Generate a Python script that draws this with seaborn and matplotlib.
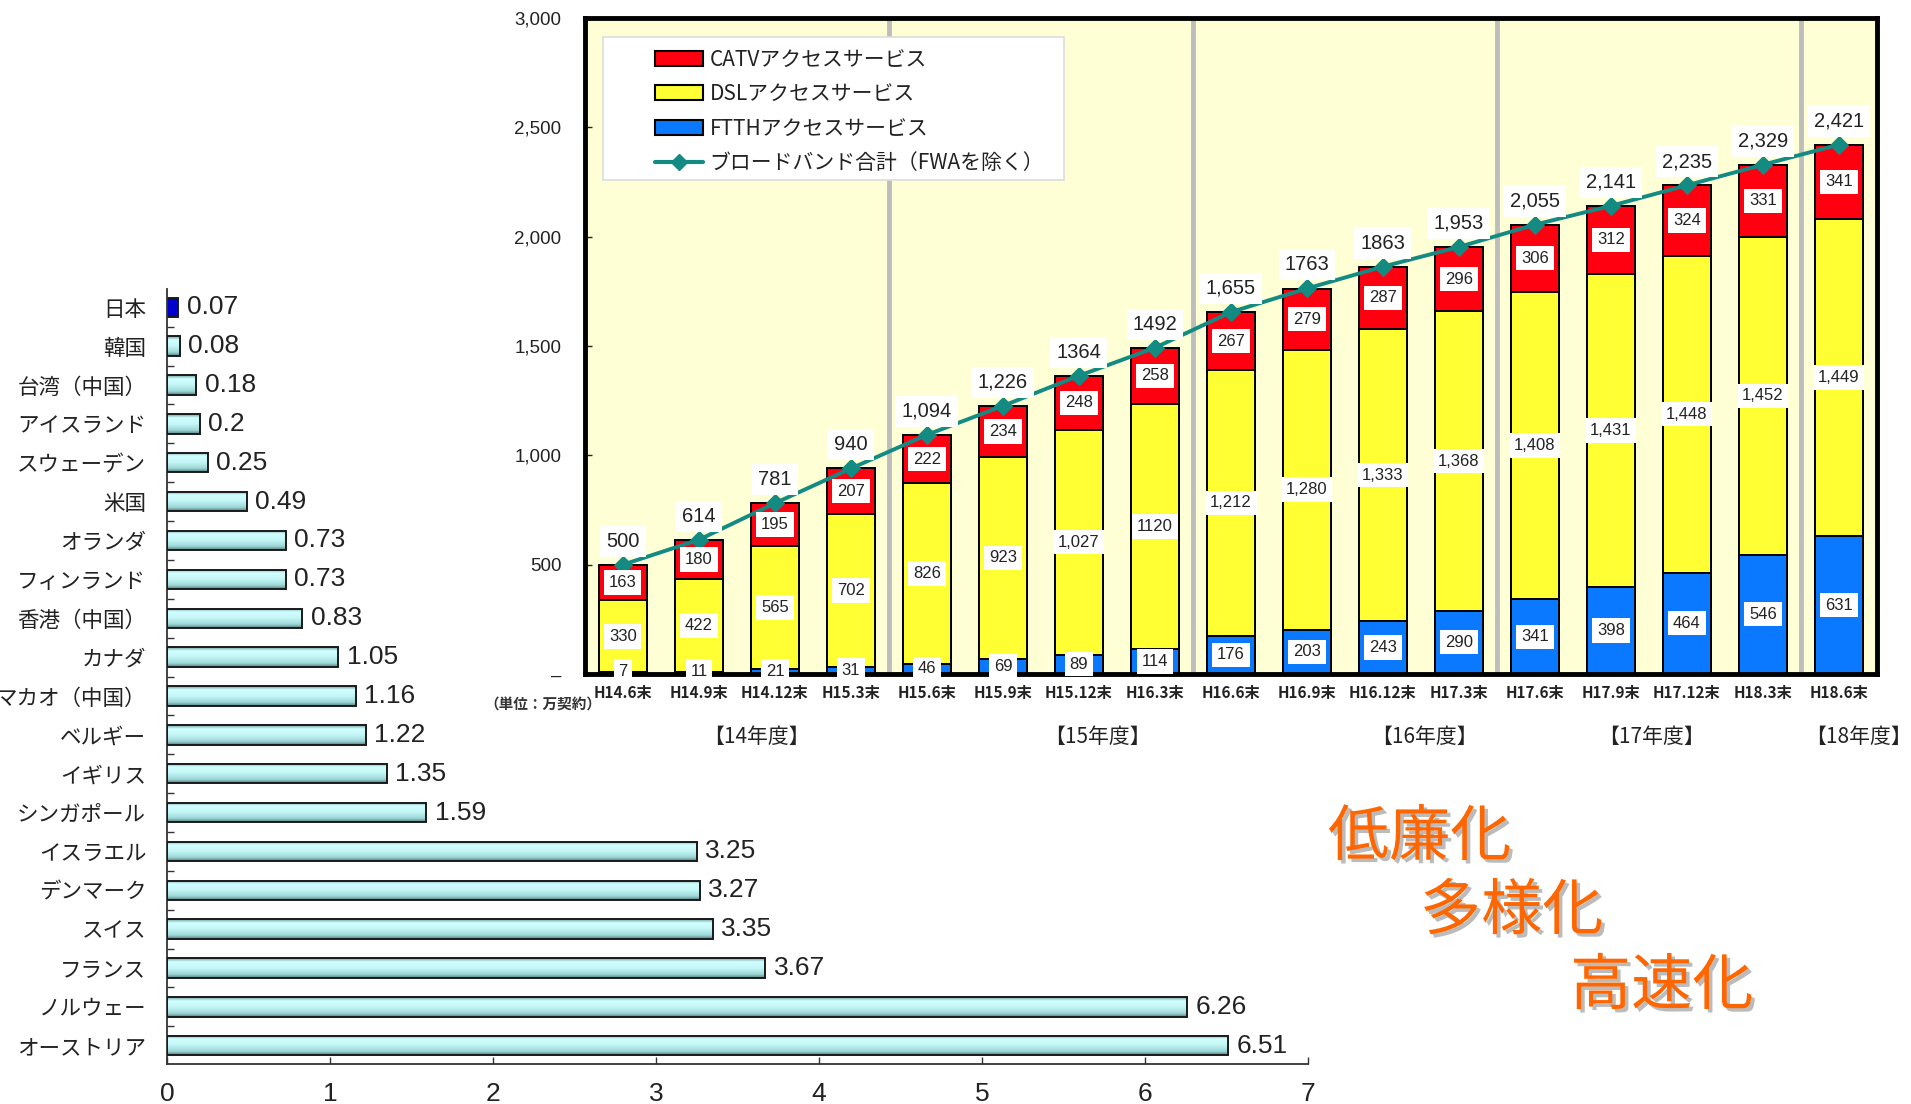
import numpy as np
import matplotlib
matplotlib.use("Agg")
import matplotlib.pyplot as plt
import matplotlib.patheffects as pe
from matplotlib.patches import Rectangle, Patch
from matplotlib.lines import Line2D
from matplotlib.colors import LinearSegmentedColormap
import seaborn as sns

# ---------------- data ----------------
countries = ["日本", "韓国", "台湾（中国）", "アイスランド", "スウェーデン", "米国",
             "オランダ", "フィンランド", "香港（中国）", "カナダ", "マカオ（中国）",
             "ベルギー", "イギリス", "シンガポール", "イスラエル", "デンマーク",
             "スイス", "フランス", "ノルウェー", "オーストリア"]
price = [0.07, 0.08, 0.18, 0.2, 0.25, 0.49, 0.73, 0.73, 0.83, 1.05, 1.16,
         1.22, 1.35, 1.59, 3.25, 3.27, 3.35, 3.67, 6.26, 6.51]
price_ticks = [0, 1, 2, 3, 4, 5, 6, 7]

periods = ["H14.6末", "H14.9末", "H14.12末", "H15.3末", "H15.6末", "H15.9末",
           "H15.12末", "H16.3末", "H16.6末", "H16.9末", "H16.12末", "H17.3末",
           "H17.6末", "H17.9末", "H17.12末", "H18.3末", "H18.6末"]
ftth = [7, 11, 21, 31, 46, 69, 89, 114, 176, 203, 243, 290, 341, 398, 464, 546, 631]
dsl = [330, 422, 565, 702, 826, 923, 1027, 1120, 1212, 1280, 1333, 1368, 1408,
       1431, 1448, 1452, 1449]
catv = [163, 180, 195, 207, 222, 234, 248, 258, 267, 279, 287, 296, 306, 312,
        324, 331, 341]
total = [500, 614, 781, 940, 1094, 1226, 1364, 1492, 1655, 1763, 1863, 1953,
         2055, 2141, 2235, 2329, 2421]
total_labels = ["500", "614", "781", "940", "1,094", "1,226", "1364", "1492",
                "1,655", "1763", "1863", "1,953", "2,055", "2,141", "2,235",
                "2,329", "2,421"]
dsl_labels = ["330", "422", "565", "702", "826", "923", "1,027", "1120", "1,212",
              "1,280", "1,333", "1,368", "1,408", "1,431", "1,448", "1,452", "1,449"]
series_names = ["CATVアクセスサービス", "DSLアクセスサービス", "FTTHアクセスサービス",
                "ブロードバンド合計（FWAを除く）"]
y_ticks = [0, 500, 1000, 1500, 2000, 2500, 3000]
y_tick_labels = ["–", "500", "1,000", "1,500", "2,000", "2,500", "3,000"]
fiscal_years = ["【14年度】", "【15年度】", "【16年度】", "【17年度】", "【18年度】"]
unit_label = "（単位：万契約）"
slogans = ["低廉化", "多様化", "高速化"]

# ---------------- style ----------------
sns.set_style("white")
CJK = ["Noto Sans CJK JP", "DejaVu Sans"]
NUM = ["Liberation Sans", "DejaVu Sans"]
plt.rcParams["font.family"] = CJK

RED = "#FF0010"
YEL = "#FFFF33"
BLUE = "#0A78FF"
TEAL = "#138A82"
TXT = "#222222"

fig = plt.figure(figsize=(19.11, 11.04), dpi=100)
fig.patch.set_facecolor("white")

# ---------------- left: price per 100kbps ----------------
axL = fig.add_axes([0.0874, 0.0362, 0.5971, 0.702])
bar_colors = ["#0000CC"] + ["#C8F4F4"] * (len(countries) - 1)
sns.barplot(x=price, y=countries, hue=countries, palette=bar_colors, legend=False,
            orient="h", width=0.5, saturation=1, edgecolor="#1a1a1a",
            linewidth=1.4, ax=axL)

grad_cmap = LinearSegmentedColormap.from_list(
    "cyl", [(0, "#6E9E9E"), (0.18, "#D2FFFF"), (0.5, "#C4F6F6"),
            (0.82, "#9CD6D6"), (1, "#567F7F")])
grad = np.linspace(0, 1, 64).reshape(-1, 1)
for i, cont in enumerate(axL.containers):
    for p in cont.patches:
        if i == 0:
            continue
        x0, y0 = p.get_x(), p.get_y()
        w, h = p.get_width(), p.get_height()
        p.set_facecolor("none")
        p.set_zorder(3)
        im = axL.imshow(grad, cmap=grad_cmap, aspect="auto",
                        extent=(x0, x0 + w, y0 + h, y0), origin="upper",
                        zorder=2, interpolation="bilinear")
        im.set_clip_path(p)

for cont, v in zip(axL.containers, price):
    axL.bar_label(cont, labels=[f"{v:g}"], padding=6, fontsize=19,
                  fontfamily=NUM, color=TXT)

axL.set_xlim(0, 7)
axL.set_ylim(len(countries) - 0.53, -0.47)
axL.set_xticks(price_ticks)
axL.set_xticklabels([str(t) for t in price_ticks], fontsize=19, fontfamily=NUM,
                    color=TXT)
axL.set_yticks(range(len(countries)))
axL.set_yticklabels(countries, fontsize=15.5, color=TXT)
axL.set_yticks(np.arange(0.5, len(countries) - 1, 1), minor=True)
axL.tick_params(axis="x", direction="in", length=5, width=1, pad=13,
                bottom=True, color="#333")
axL.tick_params(axis="y", which="major", length=0, pad=15)
axL.tick_params(axis="y", which="minor", direction="in", length=5, width=1,
                left=True, color="#333")
axL.set_xlabel("")
axL.set_ylabel("")
for s in ["top", "right"]:
    axL.spines[s].set_visible(False)
for s in ["left", "bottom"]:
    axL.spines[s].set_color("#333333")
    axL.spines[s].set_linewidth(1.3)

# ---------------- right: broadband subscriptions ----------------
axR = fig.add_axes([0.3061, 0.3895, 0.6761, 0.5942])
axR.set_facecolor("#FFFFD6")
n = len(periods)
for xv in [3.5, 7.5, 11.5, 15.5]:
    axR.axvline(xv, color="#BDBDBD", lw=3.5, zorder=0.5)

s1 = np.array(ftth)
s2 = s1 + np.array(dsl)
s3 = s2 + np.array(catv)
for heights, col in [(s3, RED), (s2, YEL), (s1, BLUE)]:
    sns.barplot(x=periods, y=heights, color=col, saturation=1, width=0.63,
                edgecolor="black", linewidth=1.4, ax=axR, zorder=1)

sns.lineplot(x=np.arange(n), y=total, color=TEAL, lw=2.8, marker="D",
             markersize=9, markeredgecolor=TEAL, ax=axR, zorder=5)

box = dict(boxstyle="square,pad=0.28", fc="white", ec="none")
for i in range(n):
    axR.text(i, max(ftth[i] / 2, 12), str(ftth[i]), ha="center", va="center",
             fontsize=12, fontfamily=NUM, color=TXT, bbox=box, zorder=6)
    axR.text(i, s1[i] + dsl[i] / 2, dsl_labels[i], ha="center", va="center",
             fontsize=12, fontfamily=NUM, color=TXT, bbox=box, zorder=6)
    axR.text(i, s2[i] + catv[i] / 2, str(catv[i]), ha="center", va="center",
             fontsize=12, fontfamily=NUM, color=TXT, bbox=box, zorder=6)
    axR.annotate(total_labels[i], xy=(i, total[i]), xytext=(0, 17),
                 textcoords="offset points", ha="center", va="center",
                 fontsize=14.5, fontfamily=NUM, color=TXT,
                 bbox=dict(boxstyle="square,pad=0.3", fc="white", ec="none"),
                 zorder=6)

axR.set_xlim(-0.5, n - 0.5)
axR.set_ylim(0, 3000)
axR.set_yticks(y_ticks)
axR.set_yticklabels(y_tick_labels, fontsize=13.5, fontfamily=NUM, color=TXT)
axR.tick_params(axis="y", direction="in", length=5, width=1, pad=17, left=True)
axR.set_xticks(range(n))
axR.set_xticklabels(periods, fontsize=11, fontweight="bold", color=TXT)
axR.tick_params(axis="x", length=0, pad=8)
axR.set_xlabel("")
axR.set_ylabel("")
for s in axR.spines.values():
    s.set_color("black")
    s.set_linewidth(3.5)
    s.set_visible(True)

# legend with a wide white frame
axR.add_patch(Rectangle((0.014, 0.753), 0.357, 0.218, transform=axR.transAxes,
                        fc="white", ec="#DDDDDD", lw=1.2, zorder=7))
handles = [Patch(fc=RED, ec="black", lw=1.5, label=series_names[0]),
           Patch(fc=YEL, ec="black", lw=1.5, label=series_names[1]),
           Patch(fc=BLUE, ec="black", lw=1.5, label=series_names[2]),
           Line2D([], [], color=TEAL, lw=3, marker="D", markersize=8,
                  label=series_names[3])]
leg = axR.legend(handles=handles, loc="upper left", bbox_to_anchor=(0.04, 0.982),
                 frameon=False, fontsize=15, labelspacing=0.6, handlelength=2.3,
                 handleheight=0.7, handletextpad=0.3)
leg.set_zorder(8)
for t in leg.get_texts():
    t.set_color(TXT)

# fiscal year labels under the axis
fy_x = [1.75, 6.24, 10.54, 13.53, 16.26]
for lab, xv in zip(fiscal_years, fy_x):
    axR.annotate(lab, xy=(xv, 0.3324), xycoords=("data", "figure fraction"),
                 ha="center", va="center", fontsize=15, color=TXT,
                 annotation_clip=False)

fig.text(0.2535, 0.3615, unit_label, ha="left", va="center", fontsize=10.5,
         fontweight="bold", color="#333333")

# slogans
shadow = [pe.SimplePatchShadow(offset=(2.5, -2.5), shadow_rgbFace="#BBBBBB",
                               alpha=1), pe.Normal()]
slogan_pos = [(0.6949, 0.2409), (0.7431, 0.1739), (0.8216, 0.1060)]
for txt, (xf, yf) in zip(slogans, slogan_pos):
    fig.text(xf, yf, txt, ha="left", va="center", fontsize=44,
             fontweight="normal", color="#FF6600", path_effects=shadow)

fig.savefig("out.png", dpi=100)
